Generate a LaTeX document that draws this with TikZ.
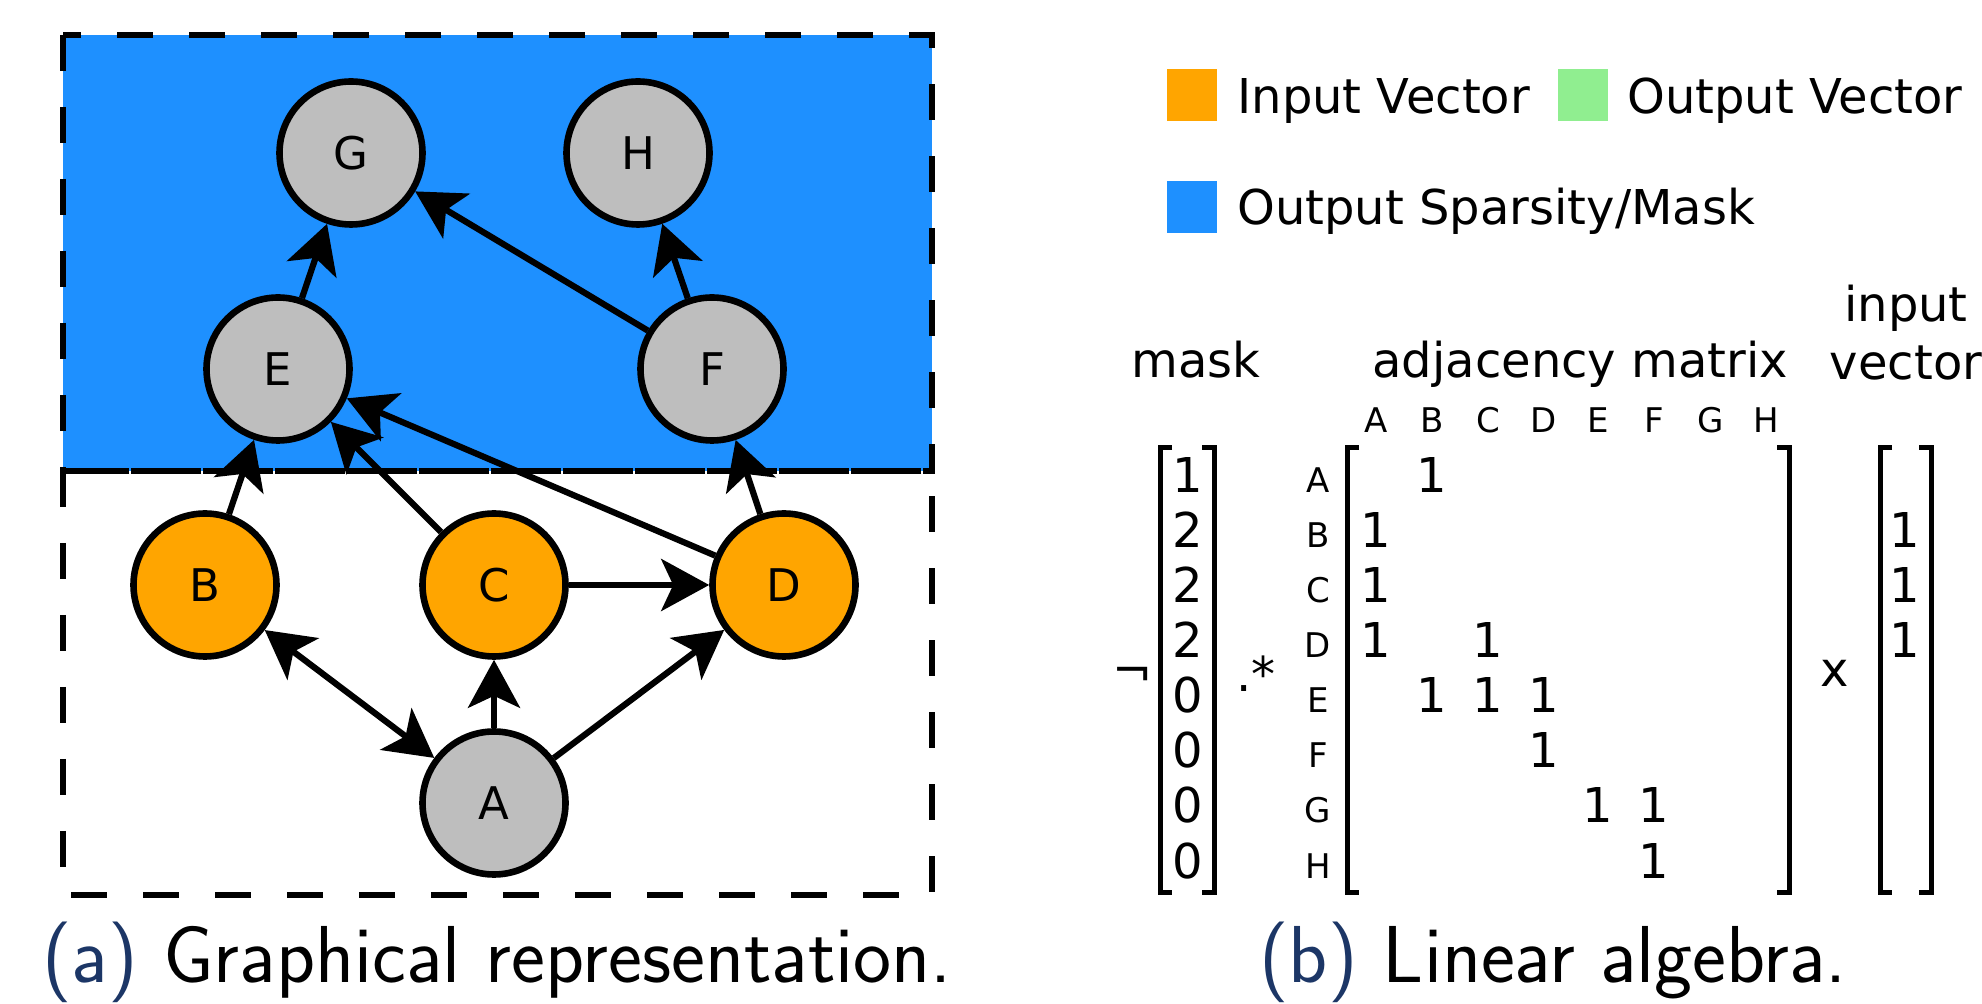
\documentclass[tikz,border=0pt]{standalone}
\usepackage{fontspec}
\setmainfont{DejaVu Sans}
\usetikzlibrary{arrows.meta}
\definecolor{capblue}{RGB}{28,54,102}
\definecolor{maskblue}{RGB}{30,144,255}
\definecolor{inorange}{RGB}{255,165,0}
\definecolor{outgreen}{RGB}{144,238,144}
\definecolor{nodegray}{RGB}{190,190,190}
\begin{document}
\begin{tikzpicture}[x=0.5pt,y=-0.5pt,
  >={Stealth[length=24pt,width=26pt,inset=6pt]},
  vnode/.style={circle, draw, line width=3.3pt, minimum size=71.5pt, inner sep=0pt, font=\fontsize{22.5}{27}\selectfont},
  gnode/.style={vnode, fill=nodegray},
  onode/.style={vnode, fill=inorange},
  conn/.style={line width=3.1pt, ->},
  regionbox/.style={line width=3.3pt, dash pattern=on 18pt off 18pt},
  lbl/.style={anchor=base, inner sep=0pt, font=\fontsize{24}{29}\selectfont},
  hdr/.style={anchor=base, inner sep=0pt, font=\fontsize{17}{20}\selectfont},
  captxt/.style={anchor=base west, inner sep=0pt, font=\sffamily\fontsize{40.4}{48}\selectfont},
  brk/.style={line width=2.5pt},
  swatch/.style={inner sep=0pt, minimum width=25pt, minimum height=26pt}
]
\useasboundingbox (0,0) rectangle (1982,1004);

% regions
\fill[maskblue] (63,35) rectangle (932,471);
\draw[regionbox] (63,35) rectangle (932,471);
\draw[regionbox] (63,471) rectangle (932,895);

% graph nodes
\node[gnode] (G) at (351,153) {G};
\node[gnode] (H) at (638,153) {H};
\node[gnode] (E) at (278,369) {E};
\node[gnode] (F) at (712,369) {F};
\node[onode] (B) at (205,585) {B};
\node[onode] (C) at (494,585) {C};
\node[onode] (D) at (784,585) {D};
\node[gnode] (A) at (494,803) {A};

% edges
\draw[conn] (B) -- (E);
\draw[conn] (C) -- (E);
\draw[conn] (D) -- (E);
\draw[conn] (C) -- (D);
\draw[conn] (A) -- (C);
\draw[conn] (A) -- (D);
\draw[conn,<->] (A) -- (B);
\draw[conn] (E) -- (G);
\draw[conn] (F) -- (G);
\draw[conn] (F) -- (H);
\draw[conn] (D) -- (F);

% legend
\node[swatch, fill=inorange] (sw1) at (1192,95) {};
\node[lbl, anchor=base west] (lin) at (1237,114) {Input Vector};
\node[swatch, fill=outgreen] (sw2) at (1583,95) {};
\node[lbl, anchor=base west] (lout) at (1627,114) {Output Vector};
\node[swatch, fill=maskblue] (sw3) at (1192,207) {};
\node[lbl, anchor=base west] (lmask) at (1237,225) {Output Sparsity/Mask};

% titles
\node[lbl, anchor=base west] (tmask) at (1131,378) {mask};
\node[lbl, anchor=base west] (tadj) at (1372,378) {adjacency matrix};
\node[lbl] (tin1) at (1906,322) {input};
\node[lbl] (tin2) at (1906,380) {vector};

% column headers
\foreach \l/\x in {A/1376,B/1432,C/1488,D/1544,E/1598,F/1654,G/1711,H/1766}
  \node[hdr] (col\l) at (\x,433) {\l};
% row labels
\foreach \l/\y in {A/493,B/548,C/603,D/658,E/713,F/768,G/823,H/878}
  \node[hdr] (row\l) at (1318,\y) {\l};

% mask vector
\foreach \v/\y [count=\i] in {1/493,2/548,2/603,2/658,0/713,0/768,0/823,0/878}
  \node[lbl] (m\i) at (1188,\y) {\v};

% adjacency entries
\foreach \x/\y [count=\i] in {1432/493, 1376/548, 1376/603, 1376/658, 1488/658,
   1432/713, 1488/713, 1544/713, 1544/768, 1598/823, 1654/823, 1654/878}
  \node[lbl] (a\i) at (\x,\y) {1};

% input vector entries
\foreach \y [count=\i] in {548,603,658}
  \node[lbl] (v\i) at (1905,\y) {1};

% brackets
\draw[brk] (1172,448) -- (1160,448) -- (1160,893) -- (1172,893);
\draw[brk] (1202,448) -- (1214,448) -- (1214,893) -- (1202,893);
\draw[brk] (1359,448) -- (1347,448) -- (1347,893) -- (1359,893);
\draw[brk] (1777,448) -- (1789,448) -- (1789,893) -- (1777,893);
\draw[brk] (1892,448) -- (1880,448) -- (1880,893) -- (1892,893);
\draw[brk] (1919,448) -- (1931,448) -- (1931,893) -- (1919,893);

% operators
\node[lbl, anchor=center] (neg) at (1133,677) {¬};
\node[lbl] (emul) at (1256,692) {.*};
\node[lbl] (times) at (1835,687) {x};

% captions
\node[captxt] (capa) at (42,982) {\textcolor{capblue}{(a)} Graphical representation.};
\node[captxt] (capb) at (1259,982) {\textcolor{capblue}{(b)} Linear algebra.};
\end{tikzpicture}
\end{document}
